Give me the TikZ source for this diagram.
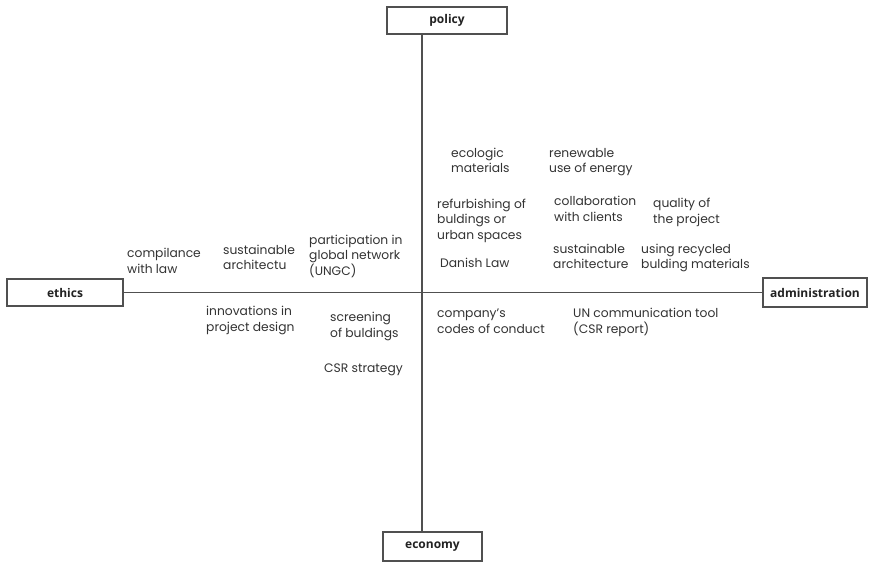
\documentclass[tikz,border=0pt]{standalone}
\usepackage{fontspec}
\setmainfont{Poppins}
\newfontfamily\boxfont{Open Sans}
\definecolor{txt}{HTML}{333333}
\definecolor{boxtxt}{HTML}{222222}
\definecolor{axis}{HTML}{505050}
\begin{document}
\begin{tikzpicture}[x=1pt,y=-1pt,
  lbl/.style={anchor=base west, align=left, inner sep=0pt, text=txt,
    font=\fontsize{12.3}{15.5}\selectfont},
  axbox/.style={draw=axis, line width=1.3pt, fill=white, inner sep=0pt,
    text=boxtxt, font=\boxfont\bfseries\fontsize{12}{14}\selectfont},
  axline/.style={draw=axis, line width=1.3pt}]
\useasboundingbox (0,0) rectangle (870,563);
\fill[white] (0,0) rectangle (870,563);
% axis boxes
\node[axbox, minimum width=120pt, minimum height=27pt] (policy) at (447,20.5) {policy};
\node[axbox, minimum width=116pt, minimum height=27pt] (ethics) at (65,292.5) {ethics};
\node[axbox, minimum width=104pt, minimum height=29pt] (admin) at (815,292.5) {administration};
\node[axbox, minimum width=99pt, minimum height=29pt] (economy) at (432.5,546.5) {economy};
\coordinate (o) at (422,292.5);
% axes
\draw[axline] (ethics.east) -- (admin.west);
\draw[axline] (o |- policy.south) -- (o |- economy.north);
% quadrant I (anchor = baseline of the last line)
\node[lbl] (ecol) at (451,172.5) {ecologic\\materials};
\node[lbl] (renew) at (549,172.5) {renewable\\use of energy};
\node[lbl] (refurb) at (437,239) {refurbishing of\\buldings or\\urban spaces};
\node[lbl] (collab) at (554,221) {collaboration\\with clients};
\node[lbl] (quality) at (653,223) {quality of\\the project};
\node[lbl] (danish) at (440,267) {Danish Law};
\node[lbl] (sustA) at (553,268.5) {sustainable\\architecture};
\node[lbl] (recyc) at (641,268.5) {using recycled\\bulding materials};
% quadrant II
\node[lbl] (compl) at (127,273) {compilance\\with law};
\node[lbl] (sustB) at (223,269.5) {sustainable\\architectu};
\node[lbl] (partic) at (309,275) {participation in\\global network\\(UNGC)};
% quadrant III
\node[lbl] (innov) at (206,331) {innovations in\\project design};
\node[lbl] (screen) at (330,337) {screening\\of buldings};
\node[lbl] (csr) at (324,372) {CSR strategy};
% quadrant IV
\node[lbl] (codes) at (437,333) {company’s\\codes of conduct};
\node[lbl] (uncom) at (573,333) {UN communication tool\\(CSR report)};
\end{tikzpicture}
\end{document}
